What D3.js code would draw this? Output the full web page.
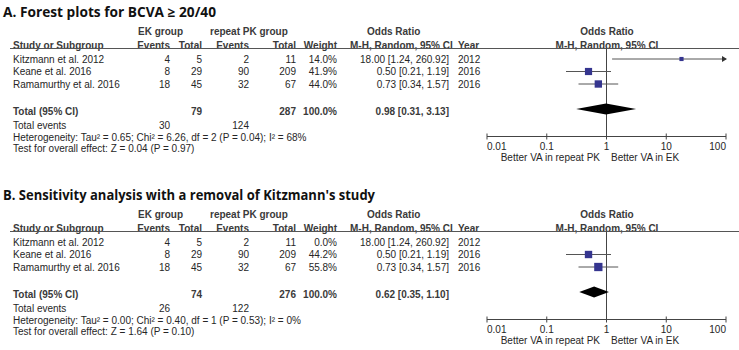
<!DOCTYPE html>
<html>
<head>
<meta charset="utf-8">
<script src="https://cdn.jsdelivr.net/npm/d3@7"></script>
<style>
  body { margin: 0; background: #fff; }
  text { font-family: "Liberation Sans", Arial, sans-serif; font-size: 10px; fill: #262626; }
  .hd { font-weight: bold; fill: #3a3a3a; }
  .title { font-family: "Open Sans", "Noto Sans", sans-serif; font-weight: bold; font-size: 13.5px; fill: #111; }
</style>
</head>
<body>
<div id="canvas"></div>
<script>
"use strict"

/* Drawing size */
let svgWidth = 739;
let svgHeight = 350;

/* Study data */
let studies = ["Kitzmann et al. 2012", "Keane et al. 2016", "Ramamurthy et al. 2016"];
let years = ["2012", "2016", "2016"];
let ekEvents = [4, 8, 18];
let ekTotal = [5, 29, 45];
let pkEvents = [2, 90, 32];
let pkTotal = [11, 209, 67];
let orValue = [18.00, 0.50, 0.73];
let ciLow = [1.24, 0.21, 0.34];
let ciHigh = [260.92, 1.19, 1.57];
let orLabels = ["18.00 [1.24, 260.92]", "0.50 [0.21, 1.19]", "0.73 [0.34, 1.57]"];

/* Per-panel values */
let titles = ["A. Forest plots for BCVA \u2265 20/40", "B. Sensitivity analysis with a removal of Kitzmann's study"];
let weights = [[14.0, 41.9, 44.0], [0.0, 44.2, 55.8]];
let pooledOR = [0.98, 0.62];
let pooledLow = [0.31, 0.35];
let pooledHigh = [3.13, 1.10];
let pooledLabels = ["0.98 [0.31, 3.13]", "0.62 [0.35, 1.10]"];
let ekTotalSum = [79, 74];
let pkTotalSum = [287, 276];
let ekEventSum = [30, 26];
let pkEventSum = [124, 122];
let hetTexts = [
    "Heterogeneity: Tau\u00b2 = 0.65; Chi\u00b2 = 6.26, df = 2 (P = 0.04); I\u00b2 = 68%",
    "Heterogeneity: Tau\u00b2 = 0.00; Chi\u00b2 = 0.40, df = 1 (P = 0.53); I\u00b2 = 0%"
];
let testTexts = [
    "Test for overall effect: Z = 0.04 (P = 0.97)",
    "Test for overall effect: Z = 1.64 (P = 0.10)"
];

/* Axis ticks */
let tickValues = [0.01, 0.1, 1, 10, 100];
let tickLabels = ["0.01", "0.1", "1", "10", "100"];

let svg = d3.select("#canvas")
    .append("svg")
    .attr("width", svgWidth)
    .attr("height", svgHeight);

let xScale = d3.scaleLog()
    .domain([0.01, 100])
    .range([487, 726]);

// square size by weight
let sizeScale = d3.scaleSqrt()
    .domain([0, 56])
    .range([0, 8.3]);

let rowY = [59, 71.5, 84];
let titleWidth = [213, 372];

function txt(g, x, y, s, anchor, cls) {
    return g.append("text")
        .attr("x", x)
        .attr("y", y)
        .attr("dy", "0.35em")
        .attr("text-anchor", anchor || "start")
        .attr("class", cls || null)
        .text(s);
}

function drawPanel(p, offsetY) {
    let g = svg.append("g").attr("transform", "translate(0," + offsetY + ")");

    txt(g, 3, 12, titles[p], "start", "title")
        .attr("textLength", titleWidth[p])
        .attr("lengthAdjust", "spacingAndGlyphs");

    // headers
    txt(g, 138, 31.5, "EK group", "start", "hd");
    txt(g, 210, 31.5, "repeat PK group", "start", "hd");
    txt(g, 367, 31.5, "Odds Ratio", "start", "hd");
    txt(g, 607, 31.5, "Odds Ratio", "middle", "hd");

    txt(g, 13, 45, "Study or Subgroup", "start", "hd");
    txt(g, 170, 45, "Events", "end", "hd");
    txt(g, 202, 45, "Total", "end", "hd");
    txt(g, 249, 45, "Events", "end", "hd");
    txt(g, 296, 45, "Total", "end", "hd");
    txt(g, 337, 45, "Weight", "end", "hd");
    txt(g, 350, 45, "M-H, Random, 95% CI", "start", "hd");
    txt(g, 458, 45, "Year", "start", "hd");
    txt(g, 607, 45, "M-H, Random, 95% CI", "middle", "hd");

    g.append("line")
        .attr("x1", 10).attr("x2", svgWidth)
        .attr("y1", 48.5).attr("y2", 48.5)
        .attr("stroke", "#555").attr("stroke-width", 1);

    // study rows
    studies.forEach((s, i) => {
        let y = rowY[i];
        txt(g, 13, y, s);
        txt(g, 170, y, ekEvents[i], "end");
        txt(g, 202, y, ekTotal[i], "end");
        txt(g, 249, y, pkEvents[i], "end");
        txt(g, 296, y, pkTotal[i], "end");
        txt(g, 337, y, weights[p][i].toFixed(1) + "%", "end");
        txt(g, 449, y, orLabels[i], "end");
        txt(g, 458, y, years[i]);
    });

    // totals
    txt(g, 13, 111, "Total (95% CI)", "start", "hd");
    txt(g, 202, 111, ekTotalSum[p], "end", "hd");
    txt(g, 296, 111, pkTotalSum[p], "end", "hd");
    txt(g, 337, 111, "100.0%", "end", "hd");
    txt(g, 449, 111, pooledLabels[p], "end", "hd");

    txt(g, 13, 125.5, "Total events");
    txt(g, 170, 125.5, ekEventSum[p], "end");
    txt(g, 249, 125.5, pkEventSum[p], "end");
    txt(g, 13, 137, hetTexts[p]);
    txt(g, 13, 148, testTexts[p]);

    // line of no effect
    g.append("line")
        .attr("x1", xScale(1)).attr("x2", xScale(1))
        .attr("y1", 48.5).attr("y2", 136.5)
        .attr("stroke", "#444").attr("stroke-width", 1);

    // CI lines and squares
    studies.forEach((s, i) => {
        let w = weights[p][i];
        if (w <= 0) return;
        let y = rowY[i];
        let hi = Math.min(ciHigh[i], 100);
        g.append("line")
            .attr("x1", xScale(ciLow[i])).attr("x2", xScale(hi))
            .attr("y1", y).attr("y2", y)
            .attr("stroke", "#555").attr("stroke-width", 1);
        if (ciHigh[i] > 100) {
            let ax = xScale(100) + 1;
            g.append("path")
                .attr("d", "M" + (ax - 5) + "," + (y - 3) + "L" + ax + "," + y + "L" + (ax - 5) + "," + (y + 3) + "Z")
                .attr("fill", "#333");
        }
        let sz = sizeScale(w);
        g.append("rect")
            .attr("x", xScale(orValue[i]) - sz / 2)
            .attr("y", y - sz / 2)
            .attr("width", sz).attr("height", sz)
            .attr("fill", "#35358f");
    });

    // pooled diamond
    let dy = 109;
    g.append("path")
        .attr("d", "M" + xScale(pooledLow[p]) + "," + dy +
            "L" + xScale(pooledOR[p]) + "," + (dy - 5.5) +
            "L" + xScale(pooledHigh[p]) + "," + dy +
            "L" + xScale(pooledOR[p]) + "," + (dy + 5.5) + "Z")
        .attr("fill", "#000");

    // axis
    let axisY = 136.5;
    g.append("line")
        .attr("x1", xScale(0.01)).attr("x2", xScale(100))
        .attr("y1", axisY).attr("y2", axisY)
        .attr("stroke", "#444").attr("stroke-width", 1);
    g.selectAll("line.tick")
        .data(tickValues)
        .join("line")
        .attr("class", "tick")
        .attr("x1", d => xScale(d)).attr("x2", d => xScale(d))
        .attr("y1", axisY - 3).attr("y2", axisY + 3)
        .attr("stroke", "#444").attr("stroke-width", 1);
    tickValues.forEach((d, i) => {
        let anchor = i === 0 ? "start" : (i === tickValues.length - 1 ? "end" : "middle");
        txt(g, xScale(d), 146.5, tickLabels[i], anchor);
    });
    txt(g, 600, 157.5, "Better VA in repeat PK", "end");
    txt(g, 611, 157.5, "Better VA in EK", "start");
}

drawPanel(0, 0);
drawPanel(1, 183);
</script>
</body>
</html>
